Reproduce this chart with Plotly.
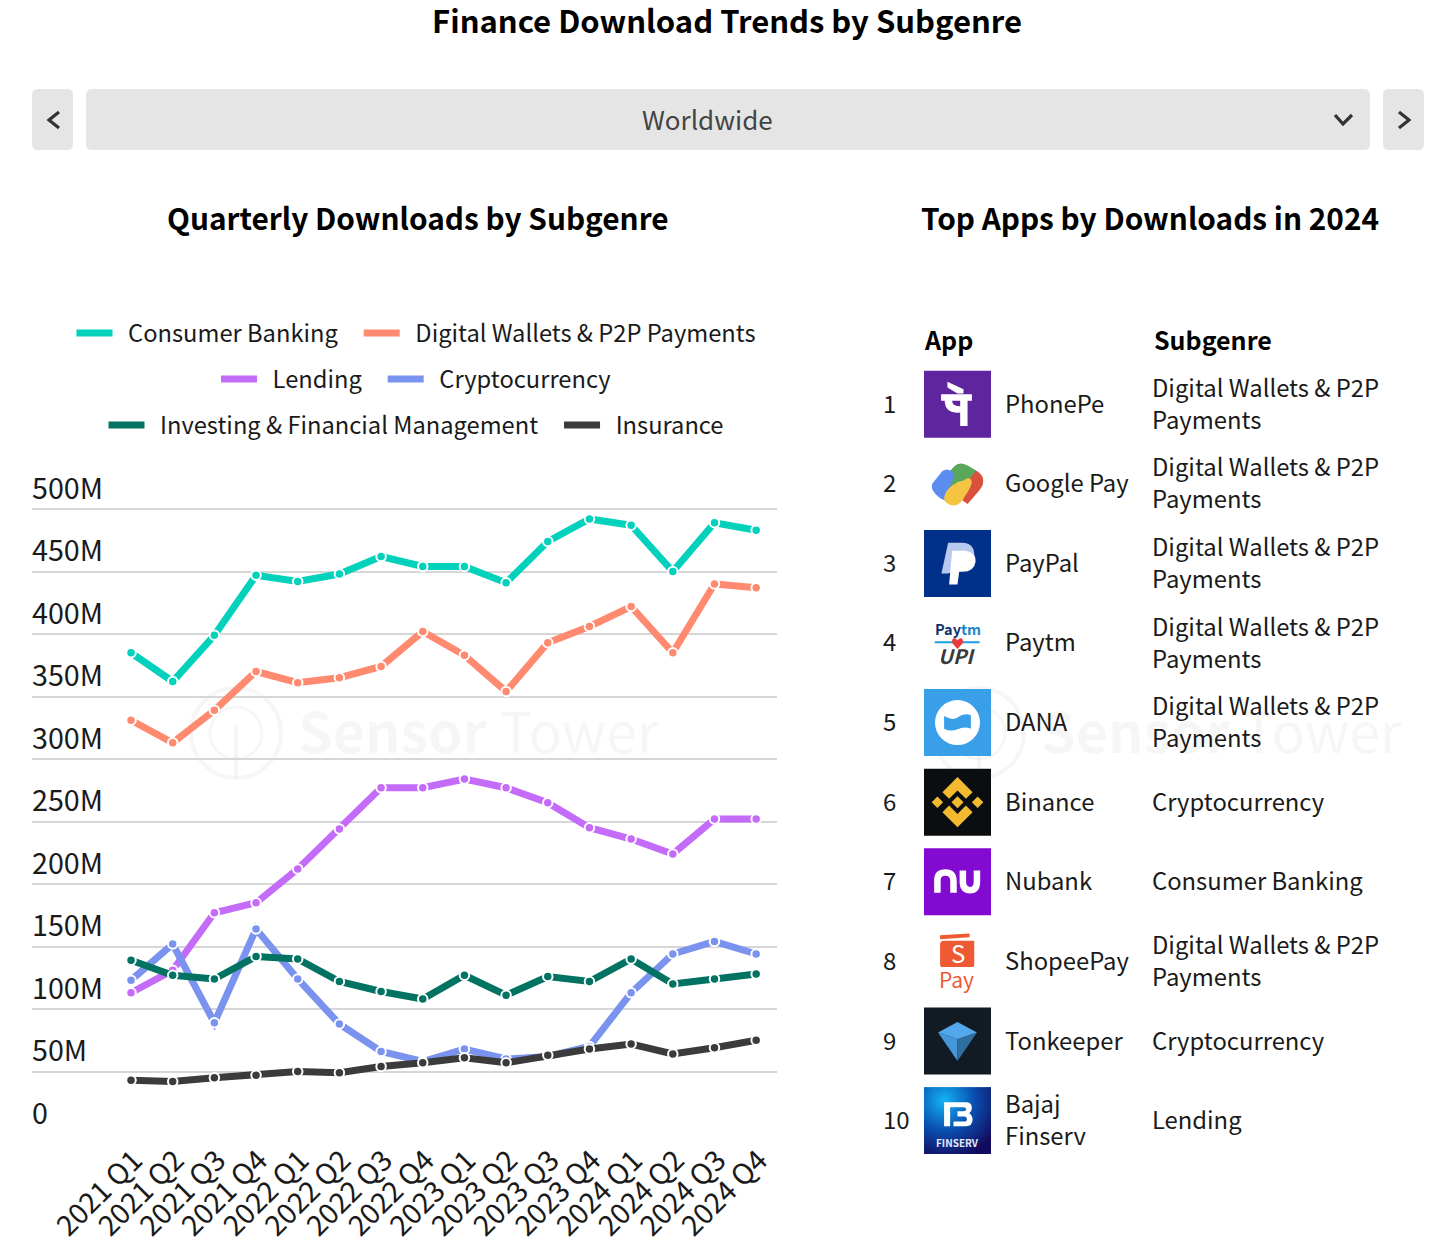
#!/usr/bin/env python3
"""Finance download trends dashboard."""

import base64
import re

import plotly.graph_objects as go

W = 1439
H = 1248
FONT = "Noto Sans CJK JP"
INK = "#1a1a1a"

quarters = [
    "2021 Q1", "2021 Q2", "2021 Q3", "2021 Q4",
    "2022 Q1", "2022 Q2", "2022 Q3", "2022 Q4",
    "2023 Q1", "2023 Q2", "2023 Q3", "2023 Q4",
    "2024 Q1", "2024 Q2", "2024 Q3", "2024 Q4",
]
consumer_banking = [385, 362, 399, 447, 442, 448, 462, 454, 454, 441, 474, 492, 487, 450, 489, 483]
digital_wallets = [331, 313, 339, 370, 361, 365, 374, 402, 383, 354, 393, 406, 422, 385, 440, 437]
lending = [113, 131, 177, 185, 212, 244, 277, 277, 284, 277, 265, 245, 236, 224, 252, 252]
cryptocurrency = [123, 152, 89, 164, 124, 88, 66, 58, 68, 60, 62, 70, 113, 144, 154, 144]
investing = [139, 127, 124, 142, 140, 122, 114, 108, 127, 111, 126, 122, 140, 120, 124, 128]
insurance = [43, 42, 45, 47, 50, 49, 54, 57, 61, 57, 63, 68, 72, 64, 69, 75]

y_ticks = [0, 50, 100, 150, 200, 250, 300, 350, 400, 450, 500]
y_tick_labels = ["0", "50M", "100M", "150M", "200M", "250M", "300M", "350M", "400M", "450M", "500M"]

ranks = ["1", "2", "3", "4", "5", "6", "7", "8", "9", "10"]
apps = ["PhonePe", "Google Pay", "PayPal", "Paytm", "DANA", "Binance", "Nubank",
        "ShopeePay", "Tonkeeper", "Bajaj<br>Finserv"]
WALLETS = "Digital Wallets & P2P<br>Payments"
subgenres = [WALLETS, WALLETS, WALLETS, WALLETS, WALLETS, "Cryptocurrency", "Consumer Banking",
             WALLETS, "Cryptocurrency", "Lending"]

series = [
    ("Consumer Banking", consumer_banking, "#02d2bb", "legend"),
    ("Digital Wallets & P2P Payments", digital_wallets, "#ff8a70", "legend"),
    ("Lending", lending, "#c56bfa", "legend2"),
    ("Cryptocurrency", cryptocurrency, "#7a93ee", "legend2"),
    ("Investing & Financial Management", investing, "#027362", "legend3"),
    ("Insurance", insurance, "#3b3b3b", "legend3"),
]

shapes = []
annotations = []
images = []


def fx(x):
    return x / W


def fy(y):
    return 1 - y / H


def to_paper(d, ox=0.0, oy=0.0, k=1.0):
    """Turn an absolute pixel path into paper fractions."""
    out = []
    is_x = True
    for tok in re.findall(r"[MLCQZ]|-?\d+\.?\d*", d):
        if tok in "MLCQZ":
            out.append(tok)
            is_x = True
        elif is_x:
            out.append(f"{fx(ox + float(tok) * k):.5f}")
            is_x = False
        else:
            out.append(f"{fy(oy + float(tok) * k):.5f}")
            is_x = True
    return " ".join(out)


def add_path(d, fill=None, stroke=None, width=0, layer="above", ox=0.0, oy=0.0, k=1.0):
    shapes.append(dict(
        type="path", xref="paper", yref="paper", layer=layer,
        path=to_paper(d, ox, oy, k),
        fillcolor=fill or "rgba(0,0,0,0)",
        line=dict(color=stroke or "rgba(0,0,0,0)", width=width),
    ))


def rrect(x0, y0, x1, y1, r):
    return (f"M{x0 + r} {y0} L{x1 - r} {y0} Q{x1} {y0} {x1} {y0 + r} L{x1} {y1 - r} "
            f"Q{x1} {y1} {x1 - r} {y1} L{x0 + r} {y1} Q{x0} {y1} {x0} {y1 - r} "
            f"L{x0} {y0 + r} Q{x0} {y0} {x0 + r} {y0} Z")


def add_text(x, y, text, size=23.8, color=INK, anchor="left", bold=False):
    annotations.append(dict(
        xref="paper", yref="paper", x=fx(x), y=fy(y), text=text, showarrow=False,
        xanchor=anchor, yanchor="middle", borderpad=0, align=anchor,
        font=dict(family=FONT, size=size, color=color, weight=700 if bold else 400),
    ))


def add_circle(cx, cy, r, stroke, width, layer="below"):
    shapes.append(dict(
        type="circle", xref="paper", yref="paper", layer=layer,
        x0=fx(cx - r), x1=fx(cx + r), y0=fy(cy - r), y1=fy(cy + r),
        line=dict(color=stroke, width=width),
    ))


# dropdown row
for x0, x1 in [(32, 73), (86, 1370), (1383, 1424)]:
    add_path(rrect(x0, 89, x1, 150, 6), fill="#e5e5e5")
add_path("M59 112 L49 120 L59 128", stroke="#333333", width=3.2)
add_path("M1399 112 L1409 120 L1399 128", stroke="#333333", width=3.2)
add_path("M1335 115 L1343 124 L1352 115", stroke="#333333", width=3.2)
add_text(707, 118, "Worldwide", size=26, color="#444444", anchor="center")

add_text(418, 217, "Quarterly Downloads by Subgenre", size=29.8, anchor="center", bold=True, color="#000000")
add_text(1150, 217, "Top Apps by Downloads in 2024", size=29.8, anchor="center", bold=True, color="#000000")

# watermarks
MARK = "rgba(0,0,0,0.035)"
for off in (0, 743):
    add_circle(236 + off, 733, 45, MARK, 4)
    add_circle(236 + off, 733, 26, MARK, 3)
    add_path(f"M{236 + off} 725 L{236 + off} 778", stroke=MARK, width=4, layer="below")
    add_text(297 + off, 729, "<b>Sensor</b> Tower", size=55.5, color=MARK)

# table
ROW0 = 404.2
ROW_STEP = 79.6
ICON = 67
add_text(923, 339, "App", size=25, bold=True, color="#000000")
add_text(1152.5, 339, "Subgenre", size=25, bold=True, color="#000000")


def multi_line(x, y, text):
    lines = text.split("<br>")
    for n, line in enumerate(lines):
        add_text(x, y - 2 + (n - (len(lines) - 1) / 2) * 32, line)


for i, (rank, app, sub) in enumerate(zip(ranks, apps, subgenres)):
    cy = ROW0 + i * ROW_STEP
    add_text(882, cy - 2, rank, size=24)
    multi_line(1003.7, cy, app)
    multi_line(1151.3, cy, sub)


def icon_top(i):
    return ROW0 + i * ROW_STEP - ICON / 2


def icon_bg(i, color):
    add_path(f"M924 {icon_top(i)} L991 {icon_top(i)} L991 {icon_top(i) + ICON} L924 {icon_top(i) + ICON} Z", fill=color)


def glyph(i, d, fill=None, stroke=None, width=0):
    # glyphs are drawn in a 200 unit box
    add_path(d, fill=fill, stroke=stroke, width=width, ox=924, oy=icon_top(i), k=ICON / 200)


# PhonePe
icon_bg(0, "#5f259f")
glyph(0, "M51 70 L143 70 L143 90 L130 90 L130 165 L108 165 L108 125 Q66 130 62 95 L62 90 L51 90 Z M84 90 Q84 107 108 106 L108 90 Z", fill="#ffffff")
glyph(0, "M70 33 L118 55 L118 68 L100 68 L70 50 Z", fill="#ffffff")

# Google Pay
glyph(1, "M140 55 Q165 60 175 80 Q182 100 165 120 L130 160 L115 150 L140 75 Z", fill="#d9503c")
glyph(1, "M62 80 L90 48 Q105 32 130 45 L155 60 L135 88 L100 95 L75 135 Z", fill="#5aa65a")
glyph(1, "M55 62 Q68 52 82 62 L92 72 L62 150 Q40 140 28 122 Q18 105 28 95 Z", fill="#5b8def")
glyph(1, "M118 90 Q138 75 143 95 Q140 110 130 125 L110 155 Q95 170 75 162 Q60 155 60 140 L65 125 Q80 100 118 90 Z", fill="#f3c543")

# PayPal
icon_bg(2, "#003087")
glyph(2, "M72 38 L118 38 Q152 42 150 78 L100 120 L72 130 L52 130 Z", fill="#b9c8ee")
glyph(2, "M84 62 L125 62 Q156 68 154 95 Q150 125 115 125 L105 125 L100 163 L75 163 Z", fill="#ffffff")

# Paytm
add_text(957.5, icon_top(3) + 19, '<b><span style="color:#12326d">Pay</span><span style="color:#1b86c9">tm</span></b>',
         size=14.5, anchor="center")
glyph(3, "M32 95 L88 95 L88 101 L32 101 Z M112 95 L166 95 L166 101 L112 101 Z", fill="#1ba0e1")
glyph(3, "M100 118 L84 100 Q82 84 93 86 L100 92 L107 86 Q118 84 116 100 Z", fill="#e8383d")
add_text(957, icon_top(3) + 46, "<b><i>UPI</i></b>", size=20, color="#3a3a3a", anchor="center")

# DANA
icon_bg(4, "#3a9fe9")
add_circle(957.5, icon_top(4) + ICON / 2, 22.5, "#ffffff", 0, layer="above")
shapes[-1]["fillcolor"] = "#ffffff"
glyph(4, "M60 80 Q85 95 100 85 Q120 70 140 78 L140 118 Q120 110 100 120 Q80 128 60 118 Z", fill="#3a9fe9")

# Binance
icon_bg(5, "#0b0e11")
GOLD = "#f3ba2f"
glyph(5, "M100 25 L145 70 L125 90 L100 65 L75 90 L55 70 Z", fill=GOLD)
glyph(5, "M100 175 L145 130 L125 110 L100 135 L75 110 L55 130 Z", fill=GOLD)
glyph(5, "M40 83 L57 100 L40 117 L23 100 Z M160 83 L177 100 L160 117 L143 100 Z M100 82 L118 100 L100 118 L82 100 Z", fill=GOLD)

# Nubank
icon_bg(6, "#820ad1")
glyph(6, "M40 133 L40 95 Q40 72 64 72 Q88 72 88 98 L88 133", stroke="#ffffff", width=6.5)
glyph(6, "M116 66 L116 100 Q116 125 138 125 Q158 125 158 100 L158 66", stroke="#ffffff", width=6.5)

# ShopeePay
glyph(7, "M48 50 Q48 38 60 38 L150 38 L150 110 Q150 117 142 117 L56 117 Q48 117 48 110 Z", fill="#ee5a33")
glyph(7, "M48 22 L136 17 L136 28 L48 34 Z", fill="#ee5a33")
add_text(957.5, icon_top(7) + 25, "S", size=24, color="#ffffff", anchor="center")
add_text(956, icon_top(7) + 51, "Pay", size=21, color="#ee5a33", anchor="center")

# Tonkeeper
icon_bg(8, "#121a24")
glyph(8, "M42 75 L100 43 L158 75 L100 95 Z", fill="#52a8ea")
glyph(8, "M42 75 L100 95 L100 160 Z", fill="#4696dc")
glyph(8, "M158 75 L100 95 L100 160 Z", fill="#2f6f9f")

# Bajaj Finserv
grad = (
    '<svg xmlns="http://www.w3.org/2000/svg" width="67" height="67"><defs>'
    '<radialGradient id="g" cx="0.3" cy="0.2" r="0.9"><stop offset="0" stop-color="#12b4f5"/>'
    '<stop offset="0.5" stop-color="#0a4fb0"/><stop offset="1" stop-color="#120a5c"/></radialGradient>'
    '</defs><rect width="67" height="67" fill="url(#g)"/></svg>'
)
images.append(dict(
    source="data:image/svg+xml;base64," + base64.b64encode(grad.encode()).decode(),
    xref="paper", yref="paper", x=fx(924), y=fy(icon_top(9)),
    sizex=ICON / W, sizey=ICON / H, xanchor="left", yanchor="top", layer="above", sizing="stretch",
))
glyph(9, "M60 45 L125 45 Q143 45 143 62 Q143 72 135 78 Q145 85 145 97 Q145 117 125 117 L88 117 L88 103 L120 103 Q128 103 128 96 Q128 88 120 88 L100 88 L100 72 L118 72 Q126 72 126 66 Q126 60 118 60 L78 60 L78 117 L60 117 Z", fill="#ffffff")
add_text(957.5, icon_top(9) + 55, "<b>FINSERV</b>", size=10, color="#e8e8f5", anchor="center")

fig = go.Figure()

for name, values, color, legend in series:
    # nbsp padding stands in for the legend gaps plotly does not expose
    fig.add_trace(go.Scatter(
        x=quarters, y=values, name=f"\u00a0\u00a0{name}\u00a0\u00a0\u00a0", mode="lines", legend=legend,
        legendgroup=name, line=dict(color=color, width=7), hoverinfo="skip",
    ))
    fig.add_trace(go.Scatter(
        x=quarters, y=values, name=name, mode="markers", legendgroup=name, showlegend=False,
        marker=dict(color=color, size=9.5, line=dict(color="#ffffff", width=2)),
    ))

legend_style = dict(
    orientation="h", x=fx(424), xanchor="center", yanchor="middle", itemwidth=36,
    font=dict(family=FONT, size=23.7, color=INK), bgcolor="rgba(0,0,0,0)",
)

fig.update_layout(
    width=W,
    height=H,
    margin=dict(l=0, r=0, t=0, b=0),
    paper_bgcolor="#ffffff",
    plot_bgcolor="rgba(0,0,0,0)",
    font=dict(family=FONT, color=INK),
    title=dict(
        text="<b>Finance Download Trends by Subgenre</b>",
        x=727 / W, xanchor="center", y=fy(22), yanchor="middle",
        font=dict(family=FONT, size=31, color="#000000"),
    ),
    legend=dict(y=fy(333), **legend_style),
    legend2=dict(y=fy(379), **legend_style),
    legend3=dict(y=fy(425), **legend_style),
    shapes=shapes,
    annotations=annotations,
    images=images,
    xaxis=dict(
        domain=[fx(32), fx(777)],
        type="category",
        categoryorder="array",
        categoryarray=quarters,
        range=[-2.376, 15.5],
        tickangle=-45,
        showgrid=False,
        zeroline=False,
        showline=False,
        ticks="",
        tickfont=dict(family=FONT, size=28.5, color=INK),
        ticklabelstandoff=3,
        ticklabelshift=3,
        automargin=False,
    ),
    yaxis=dict(
        # headroom above 500M keeps its inside label from being dropped
        domain=[fy(1134), fy(459)],
        range=[0, 540],
        tickvals=y_ticks,
        ticktext=y_tick_labels,
        ticklabelposition="inside top",
        ticklabelstandoff=-3,
        showgrid=True,
        gridcolor="#d6d6d6",
        gridwidth=1.5,
        zeroline=False,
        showline=False,
        ticks="",
        tickfont=dict(family=FONT, size=28.7, color=INK),
        automargin=False,
    ),
)

fig.write_html(
    "out.html",
    config={"displayModeBar": False},
    post_script=(
        "document.body.style.margin='0';"
        "document.querySelectorAll('.scatterlayer .js-line').forEach(function(p){"
        "p.style.strokeLinejoin='miter';p.style.strokeMiterlimit='6';});"
    ),
)
